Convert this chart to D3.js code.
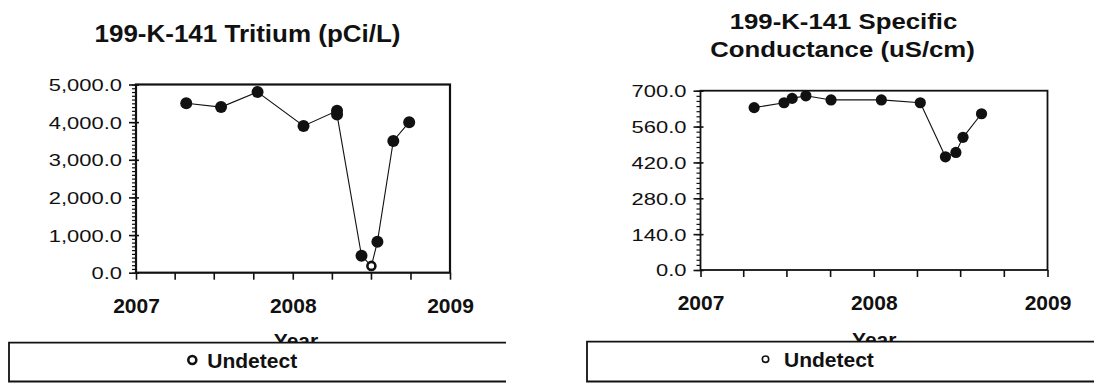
<!DOCTYPE html>
<html>
<head>
<meta charset="utf-8">
<script src="https://cdn.jsdelivr.net/npm/d3@7/dist/d3.min.js"></script>
<style>
  html, body { margin: 0; padding: 0; background: #fff; }
  svg { display: block; }
  text { font-family: "Liberation Sans", Arial, Helvetica, sans-serif; fill: #111; }
</style>
</head>
<body>
<svg id="chart" width="1094" height="383"></svg>
<script>
// ---------------- DATA ----------------
const tritiumTitle = ["199-K-141 Tritium (pCi/L)"];
const tritiumDates = ["2007-04-28", "2007-07-18", "2007-10-11", "2008-01-26", "2008-04-13", "2008-04-13",
                      "2008-06-09", "2008-07-02", "2008-07-16", "2008-08-22", "2008-09-28"];
const tritiumValues = [4500, 4400, 4800, 3900, 4300, 4200, 450, 180, 820, 3500, 4000];
const tritiumUndetect = [false, false, false, false, false, false, false, true, false, false, false];
const tritiumYTicks = [0, 1000, 2000, 3000, 4000, 5000];

const condTitle = ["199-K-141 Specific", "Conductance (uS/cm)"];
const condDates = ["2007-04-24", "2007-06-26", "2007-07-13", "2007-08-11", "2007-10-03", "2008-01-17",
                   "2008-04-08", "2008-05-31", "2008-06-22", "2008-07-07", "2008-08-15"];
const condValues = [634, 653, 670, 680, 664, 664, 653, 442, 459, 518, 610];
const condUndetect = [false, false, false, false, false, false, false, false, false, false, false];
const condYTicks = [0, 140, 280, 420, 560, 700];

const xDomain = ["2007-01-01", "2009-01-01"];
const xAxisTitle = "Year";
const legendLabel = "Undetect";

// ---------------- DRAW ----------------
const svg = d3.select("#chart");
const parse = d3.timeParse("%Y-%m-%d");

function drawPanel(cfg) {
  const g = svg.append("g");
  const x = d3.scaleTime().domain(xDomain.map(parse)).range([cfg.x0, cfg.x1]);
  const y = d3.scaleLinear().domain([0, cfg.yMax]).range([cfg.yBottom, cfg.yTop]);

  // title
  cfg.title.forEach((t, i) => {
    g.append("text")
      .attr("transform", `translate(${cfg.titleX[i]},${cfg.titleY[i]}) scale(${cfg.titleSX},1)`)
      .attr("text-anchor", "middle")
      .style("font-size", "23px").style("font-weight", "bold")
      .text(t);
  });

  // minor y ticks
  g.append("g").attr("transform", `translate(${cfg.x0},0)`)
    .call(d3.axisLeft(y).tickValues(d3.range(0, cfg.yMax + 0.001, cfg.yMinor)).tickSize(4).tickFormat(""))
    .call(s => s.select(".domain").remove())
    .call(s => s.selectAll("line").attr("stroke", "#111").attr("stroke-width", 1.2));

  // major y ticks + labels
  const ya = g.append("g").attr("transform", `translate(${cfg.x0},0)`)
    .call(d3.axisLeft(y).tickValues(cfg.yTicks).tickSize(7).tickFormat(d3.format(",.1f")))
    .call(s => s.select(".domain").remove());
  ya.selectAll("line").attr("stroke", "#111").attr("stroke-width", 1.6).attr("x2", -7).attr("x1", 3);
  ya.selectAll("text")
    .attr("x", -14 / cfg.yLabelSX).attr("dy", "0.36em")
    .attr("transform", `scale(${cfg.yLabelSX},1)`)
    .style("font-size", "16.5px").attr("fill", "#111");

  // x axis
  const xa = g.append("g").attr("transform", `translate(0,${cfg.yBottom})`)
    .call(d3.axisBottom(x).ticks(d3.timeMonth.every(3)).tickSize(7)
      .tickFormat(d => d.getMonth() === 0 ? d3.timeFormat("%Y")(d) : ""))
    .call(s => s.select(".domain").remove());
  xa.selectAll("line").attr("stroke", "#111").attr("stroke-width", 1.6);
  xa.selectAll("text").attr("y", cfg.xLabelDY).attr("dy", 0)
    .style("font-size", "21px").style("font-weight", "bold").attr("fill", "#111");

  // frame
  g.append("rect")
    .attr("x", cfg.x0).attr("y", cfg.yTop)
    .attr("width", cfg.x1 - cfg.x0).attr("height", cfg.yBottom - cfg.yTop)
    .attr("fill", "none").attr("stroke", "#111").attr("stroke-width", cfg.frameW);

  // data
  const pts = cfg.dates.map((d, i) => ({ date: parse(d), v: cfg.values[i], u: cfg.undetect[i] }));
  g.append("path").datum(pts)
    .attr("d", d3.line().x(d => x(d.date)).y(d => y(d.v)))
    .attr("fill", "none").attr("stroke", "#111").attr("stroke-width", 1.1);
  g.selectAll("circle.pt").data(pts).join("circle")
    .attr("class", "pt")
    .attr("cx", d => x(d.date)).attr("cy", d => y(d.v))
    .attr("r", d => d.u ? 4 : cfg.dotR)
    .attr("fill", d => d.u ? "#fff" : "#111")
    .attr("stroke", "#111").attr("stroke-width", d => d.u ? 2.6 : 0);

  // x title (partly hidden by legend box)
  g.append("text").attr("x", cfg.yearX).attr("y", cfg.yearY)
    .attr("text-anchor", "middle")
    .style("font-size", "21px").style("font-weight", "bold")
    .text(xAxisTitle);

  // legend box
  const lb = cfg.legendBox;
  g.append("rect").attr("x", lb[0]).attr("y", lb[1]).attr("width", lb[2] - lb[0]).attr("height", lb[3] - lb[1])
    .attr("fill", "#fff").attr("stroke", "none");
  g.append("path")
    .attr("d", `M${lb[2]},${lb[1]}H${lb[0]}V${lb[3]}H${lb[2]}`)
    .attr("fill", "none").attr("stroke", "#111").attr("stroke-width", 1.8);
  g.append("circle").attr("cx", cfg.legCircle[0]).attr("cy", cfg.legCircle[1]).attr("r", cfg.legCircle[2])
    .attr("fill", "#fff").attr("stroke", "#111").attr("stroke-width", cfg.legCircle[3]);
  g.append("text").attr("x", cfg.legText[0]).attr("y", cfg.legText[1])
    .style("font-size", "21px").style("font-weight", "bold")
    .text(legendLabel);
}

drawPanel({
  title: tritiumTitle, titleX: [247.5], titleY: [41.7], titleSX: 1.13,
  x0: 136, x1: 450, yTop: 84.5, yBottom: 272.7, yMax: 5000, yMinor: 100, yTicks: tritiumYTicks,
  yLabelSX: 1.33, xLabelDY: 40.6, frameW: 2.2, dotR: 6,
  dates: tritiumDates, values: tritiumValues, undetect: tritiumUndetect,
  yearX: 296, yearY: 348,
  legendBox: [9, 342.7, 506, 381.5], legCircle: [192.3, 360, 4, 2.6], legText: [207.3, 368.3]
});

drawPanel({
  title: condTitle, titleX: [843.5, 842.5], titleY: [29.3, 56.7], titleSX: 1.12,
  x0: 700.5, x1: 1047.5, yTop: 90.7, yBottom: 270, yMax: 700, yMinor: 20, yTicks: condYTicks,
  yLabelSX: 1.33, xLabelDY: 40, frameW: 1.8, dotR: 5.6,
  dates: condDates, values: condValues, undetect: condUndetect,
  yearX: 874.3, yearY: 347,
  legendBox: [587, 341.7, 1100, 381.5], legCircle: [765.5, 359.2, 3.2, 1.6], legText: [784, 367.3]
});
</script>
</body>
</html>
